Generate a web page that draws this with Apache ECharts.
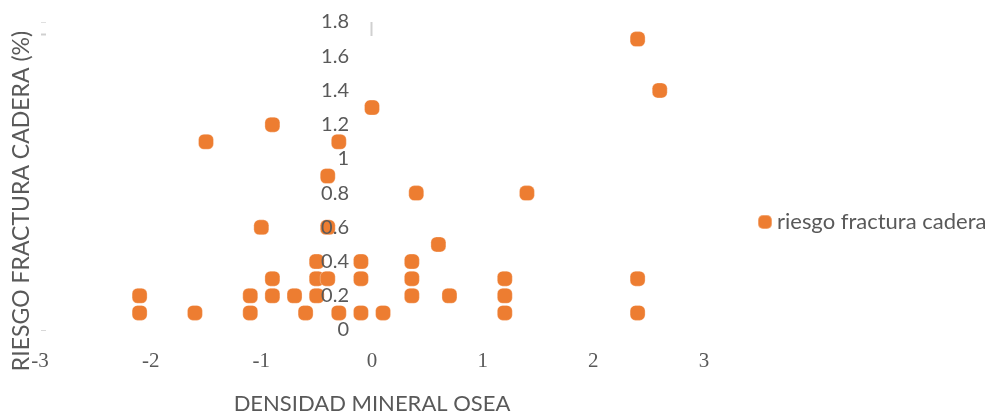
<!DOCTYPE html>
<html>
<head>
<meta charset="utf-8">
<style>
  html, body { margin: 0; padding: 0; background: #ffffff; }
  #chart { width: 991px; height: 414px; }
</style>
<script src="https://cdn.jsdelivr.net/npm/echarts@6/dist/echarts.min.js"></script>
</head>
<body>
<div id="chart"></div>
<script>
// Bone mineral density (x) against hip fracture risk in % (y)
const densidad = [
  -2.1, -1.6, -1.1, -0.6, -0.3, -0.1, 0.1, 1.2, 2.4,
  -2.1, -1.1, -0.9, -0.7, -0.5, 0.36, 0.7, 1.2,
  -0.9, -0.5, -0.4, -0.1, 0.36, 1.2, 2.4,
  -0.5, -0.1, 0.36,
  0.6,
  -1.0, -0.4,
  0.4, 1.4,
  -0.4,
  -1.5, -0.3,
  -0.9,
  0,
  2.6,
  2.4
];
const riesgo = [
  0.1, 0.1, 0.1, 0.1, 0.1, 0.1, 0.1, 0.1, 0.1,
  0.2, 0.2, 0.2, 0.2, 0.2, 0.2, 0.2, 0.2,
  0.3, 0.3, 0.3, 0.3, 0.3, 0.3, 0.3,
  0.4, 0.4, 0.4,
  0.5,
  0.6, 0.6,
  0.8, 0.8,
  0.9,
  1.1, 1.1,
  1.2,
  1.3,
  1.4,
  1.7
];

const serieNombre = 'riesgo fractura cadera';
const tituloX = 'DENSIDAD MINERAL OSEA';
const tituloY = 'RIESGO FRACTURA CADERA (%)';

const puntos = densidad.map((d, i) => [d, riesgo[i]]);

const gris = '#595959';
const naranja = '#ED7D31';

// rounded-square marker with generous corners
const marcador = 'path://M3.6,0 H6.4 A3.6,3.6 0 0 1 10,3.6 V6.4 A3.6,3.6 0 0 1 6.4,10 H3.6 A3.6,3.6 0 0 1 0,6.4 V3.6 A3.6,3.6 0 0 1 3.6,0 Z';

// plot area
const gridLeft = 40, gridTop = 22, gridW = 664, gridH = 308;
const xMin = -3, xMax = 3;
// value axis drawn where x = 0
const yAxisOffset = -gridW * (0 - xMin) / (xMax - xMin);

const chart = echarts.init(document.getElementById('chart'), null, { renderer: 'canvas' });

chart.setOption({
  animation: false,
  backgroundColor: '#ffffff',
  grid: {
    left: gridLeft, top: gridTop, width: gridW, height: gridH,
    containLabel: false,
    outerBoundsMode: 'none'
  },
  xAxis: {
    type: 'value',
    min: xMin,
    max: xMax,
    interval: 1,
    axisLine: { show: false, onZero: false },
    axisTick: { show: false },
    splitLine: { show: false },
    axisLabel: {
      margin: 21,
      fontFamily: 'Liberation Serif',
      fontSize: 21,
      color: gris
    },
    name: tituloX,
    nameLocation: 'middle',
    nameGap: 63,
    nameTextStyle: { fontFamily: 'Lato', fontSize: 22, color: gris }
  },
  yAxis: {
    type: 'value',
    min: 0,
    max: 1.8,
    interval: 0.2,
    z: 5,
    position: 'left',
    offset: yAxisOffset,
    axisLine: { show: false, onZero: false },
    axisTick: { show: false },
    splitLine: { show: false },
    axisLabel: {
      margin: 23,
      fontFamily: 'Lato',
      fontSize: 20,
      color: gris,
      formatter: v => String(Math.round(v * 10) / 10)
    }
  },
  legend: {
    show: true,
    orient: 'vertical',
    left: 752,
    top: 206,
    icon: marcador,
    itemWidth: 14,
    itemHeight: 14,
    textStyle: { fontFamily: 'Lato', fontSize: 22, color: gris },
    data: [serieNombre]
  },
  graphic: [
    {
      type: 'text',
      x: 22,
      y: 201,
      rotation: Math.PI / 2,
      style: {
        text: tituloY,
        font: '23px Lato',
        fill: gris,
        align: 'center',
        verticalAlign: 'middle'
      }
    },
    {
      type: 'line',
      shape: { x1: 371.5, y1: 22, x2: 371.5, y2: 36 },
      style: { stroke: '#d0d0d0', lineWidth: 2 }
    },
    {
      type: 'line',
      shape: { x1: 41, y1: 22.5, x2: 46, y2: 22.5 },
      style: { stroke: '#e0e0e0', lineWidth: 1 }
    },
    {
      type: 'line',
      shape: { x1: 41, y1: 34.5, x2: 46, y2: 34.5 },
      style: { stroke: '#d0d0d0', lineWidth: 2 }
    },
    {
      type: 'line',
      shape: { x1: 41, y1: 330.5, x2: 46, y2: 330.5 },
      style: { stroke: '#d8d8d8', lineWidth: 1 }
    }
  ],
  series: [
    {
      name: serieNombre,
      type: 'scatter',
      symbol: marcador,
      symbolSize: 15,
      itemStyle: {
        color: naranja,
        opacity: 1,
        borderColor: 'rgba(255,255,255,0.3)',
        borderWidth: 1
      },
      data: puntos
    }
  ]
});
</script>
</body>
</html>
